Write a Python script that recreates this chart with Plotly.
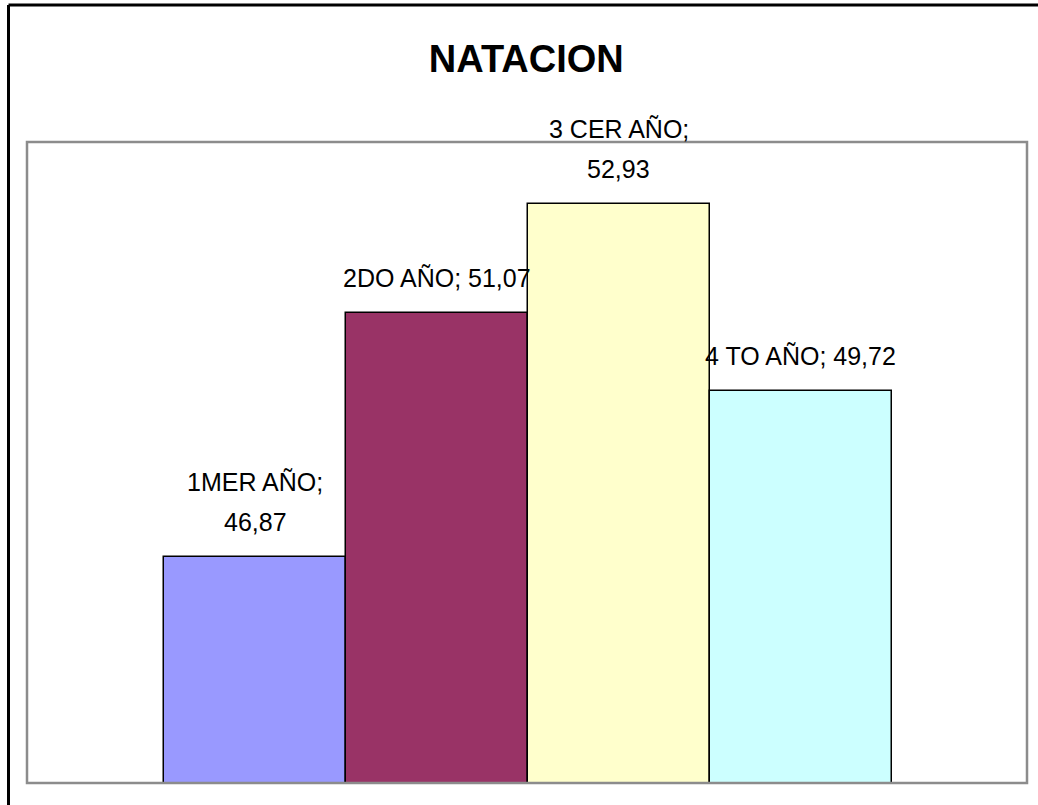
import plotly.graph_objects as go

# Data
categorias = ["1MER AÑO", "2DO AÑO", "3 CER AÑO", "4 TO AÑO"]
valores = [46.87, 51.07, 52.93, 49.72]
colores = ["#9999FF", "#993366", "#FFFFCC", "#CCFFFF"]
salto_linea = [True, False, True, False]  # label wraps onto two lines

FONT = "Liberation Sans Narrow, Arial Narrow, Liberation Sans, Arial, sans-serif"
LABEL_SIZE = 25
LINE_GAP = 40  # px between wrapped label lines

x_pos = list(range(len(categorias)))

fig = go.Figure(
    go.Bar(
        x=x_pos,
        y=valores,
        width=1.0,
        marker=dict(color=colores, line=dict(color="#000000", width=1.5)),
        hoverinfo="skip",
    )
)

# Data labels "categoria; valor" with decimal comma
for xi, cat, val, wrap in zip(x_pos, categorias, valores, salto_linea):
    num = f"{val:.2f}".replace(".", ",")
    lines = [f"{cat};", num] if wrap else [f"{cat}; {num}"]
    for k, txt in enumerate(reversed(lines)):
        fig.add_annotation(
            x=xi, y=val, xref="x", yref="y",
            text=txt,
            showarrow=False,
            yanchor="bottom",
            yshift=19 + k * LINE_GAP,
            font=dict(family=FONT, size=LABEL_SIZE, color="#000000"),
        )

# Plot-area frame (grey) and outer chart frame (black)
fig.add_shape(type="rect", xref="paper", yref="paper", x0=0, x1=1, y0=0, y1=1,
              line=dict(color="#8c8c8c", width=2.5), layer="above")
fig.add_shape(type="line", xref="paper", yref="paper",
              x0=-0.0185, x1=-0.0185, y0=-0.1, y1=1.2137,
              line=dict(color="#000000", width=3))
fig.add_shape(type="line", xref="paper", yref="paper",
              x0=-0.0185, x1=1.05, y0=1.2137, y1=1.2137,
              line=dict(color="#000000", width=3))

fig.update_layout(
    width=1038,
    height=805,
    margin=dict(l=27, r=11, t=142, b=22),
    paper_bgcolor="#FFFFFF",
    plot_bgcolor="#FFFFFF",
    showlegend=False,
    bargap=0,
    title=dict(
        text="<b>NATACION</b>",
        x=0.507, xanchor="center",
        y=1 - 59 / 805, yanchor="middle", yref="container",
        font=dict(family=FONT, size=38, color="#000000"),
    ),
    xaxis=dict(range=[-1.253, 4.242], visible=False, fixedrange=True),
    yaxis=dict(range=[43, 54], visible=False, fixedrange=True),
)

fig.write_html("out.html")
